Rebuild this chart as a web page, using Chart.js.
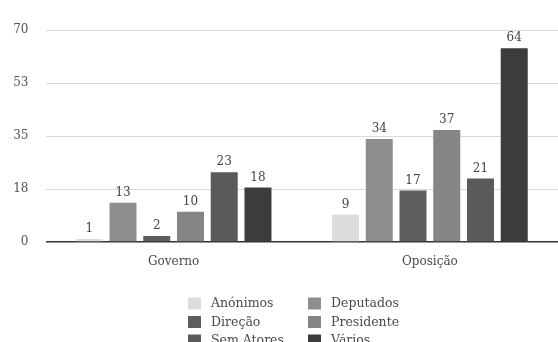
<!DOCTYPE html>
<html>
<head>
<meta charset="utf-8">
<script src="https://cdn.jsdelivr.net/npm/chart.js@4/dist/chart.umd.min.js"></script>
<style>
  html, body { margin: 0; padding: 0; background: #fff; overflow: hidden; }
  #wrap { width: 558px; height: 360px; position: relative; }
</style>
</head>
<body>
<div id="wrap"><canvas id="chart"></canvas></div>
<script>
// groups on the x axis
const groups = ["Governo", "Oposição"];

// one series per actor type
const seriesNames = ["Anónimos", "Deputados", "Direção", "Presidente", "Sem Atores", "Vários"];
const anonimos   = [1, 9];
const deputados  = [13, 34];
const direcao    = [2, 17];
const presidente = [10, 37];
const semAtores  = [23, 21];
const varios     = [18, 64];

// y axis
const yTicks = [0, 18, 35, 53, 70];
const yMax = 70;

const seriesValues = [anonimos, deputados, direcao, presidente, semAtores, varios];
const seriesColors = ["#dcdcdc", "#8e8e8e", "#5e5e5e", "#858585", "#5a5a5a", "#3c3c3c"];

const FONT = "'DejaVu Serif', serif";

// value printed over each bar
const barLabels = {
  id: "barLabels",
  afterDatasetsDraw(chart){
    const ctx = chart.ctx;
    ctx.save();
    ctx.font = "12px " + FONT;
    ctx.fillStyle = "#444";
    ctx.textAlign = "center";
    ctx.textBaseline = "middle";
    chart.data.datasets.forEach((ds, i) => {
      chart.getDatasetMeta(i).data.forEach((bar, j) => {
        ctx.fillText(String(ds.data[j]), bar.x, bar.y - 10);
      });
    });
    ctx.restore();
  }
};

// two-column legend under the axis
const gridLegend = {
  id: "gridLegend",
  afterDraw(chart){
    const ctx = chart.ctx;
    const cx = chart.width / 2;
    const colX = [cx - 91, cx + 29];
    const top = 297.5;
    const rowH = 18.5;
    ctx.save();
    ctx.font = "12.5px " + FONT;
    ctx.textBaseline = "middle";
    ctx.textAlign = "left";
    chart.data.datasets.forEach((ds, i) => {
      const x = colX[i % 2];
      const y = top + Math.floor(i / 2) * rowH;
      ctx.fillStyle = ds.backgroundColor;
      ctx.fillRect(x, y, 13, 12);
      ctx.fillStyle = "#4a4a4a";
      ctx.fillText(ds.label, x + 23, y + 6.5);
    });
    ctx.restore();
  }
};

new Chart(document.getElementById("chart"), {
  type: "bar",
  data: {
    labels: groups,
    datasets: seriesNames.map((name, i) => ({
      label: name,
      data: seriesValues[i],
      backgroundColor: seriesColors[i],
      borderWidth: 0,
      categoryPercentage: 0.79,
      barPercentage: 0.8
    }))
  },
  options: {
    responsive: true,
    maintainAspectRatio: false,
    animation: false,
    layout: { padding: { top: 30, right: 0, bottom: 0, left: 0 } },
    plugins: {
      legend: { display: false },
      tooltip: { enabled: false }
    },
    scales: {
      x: {
        grid: { display: false },
        border: { display: false },
        ticks: { color: "#4a4a4a", font: { family: FONT, size: 12 }, padding: 5 },
        afterFit(scale){ scale.height = 360 - 242; }
      },
      y: {
        min: 0,
        max: yMax,
        afterBuildTicks(scale){ scale.ticks = yTicks.map(v => ({ value: v === 18 ? 17.5 : v === 53 ? 52.5 : v })); },
        ticks: {
          color: "#555",
          font: { family: FONT, size: 12 },
          padding: 17,
          callback: v => Math.round(v)
        },
        grid: {
          drawTicks: false,
          color: c => c.tick.value === 0 ? "#333" : "#d9d9d9",
          lineWidth: c => c.tick.value === 0 ? 1.5 : 1
        },
        border: { display: false },
        afterFit(scale){ scale.width = 45.5; }
      }
    }
  },
  plugins: [barLabels, gridLegend]
});
</script>
</body>
</html>
